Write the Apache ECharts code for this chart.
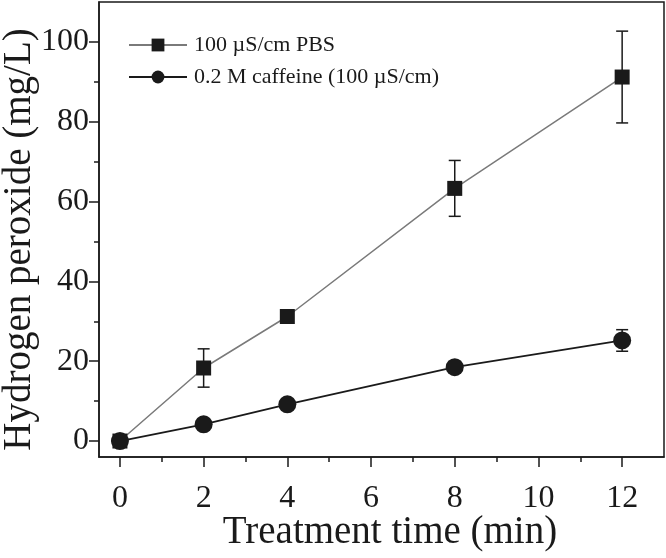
<!DOCTYPE html>
<html><head><meta charset="utf-8">
<script src="https://cdn.jsdelivr.net/npm/echarts@6/dist/echarts.min.js"></script>
<style>html,body{margin:0;padding:0;background:#fff}#c{width:666px;height:558px}</style>
</head><body><div id="c"></div>
<script>
const time = [0, 2, 4, 8, 12];
const pbs = [0, 18.3, 31.2, 63.3, 91.2];
const pbsErr = [0, 4.8, 0.8, 7.0, 11.5];
const caf = [0, 4.2, 9.2, 18.5, 25.2];
const cafErr = [0, 0.5, 0.6, 1.4, 2.7];
const xMajor = [0, 2, 4, 6, 8, 10, 12];
const xMinor = [1, 3, 5, 7, 9, 11];
const yMajor = [0, 20, 40, 60, 80, 100];
const yMinor = [10, 30, 50, 70, 90];
const names = ['100 \u00B5S/cm PBS', '0.2 M caffeine (100 \u00B5S/cm)'];

const font = 'Liberation Serif';
const ink = '#1a1a1a';
const chart = echarts.init(document.getElementById('c'));

function errData(v, e) { return time.map((t, i) => [t, v[i] - e[i], v[i] + e[i]]); }
function errSeries(v, e) {
  return {
    type: 'custom', xAxisIndex: 0, yAxisIndex: 0, z: 3, silent: true,
    data: errData(v, e),
    renderItem: function (params, api) {
      const x = api.value(0), lo = api.value(1), hi = api.value(2);
      if (hi - lo < 0.01) return null;
      const p1 = api.coord([x, hi]), p2 = api.coord([x, lo]);
      const w = 6;
      const st = { stroke: ink, lineWidth: 1.5 };
      return { type: 'group', children: [
        { type: 'line', shape: { x1: p1[0], y1: p1[1], x2: p2[0], y2: p2[1] }, style: st },
        { type: 'line', shape: { x1: p1[0] - w, y1: p1[1], x2: p1[0] + w, y2: p1[1] }, style: st },
        { type: 'line', shape: { x1: p2[0] - w, y1: p2[1], x2: p2[0] + w, y2: p2[1] }, style: st }
      ]};
    }
  };
}

const axisLineStyle = { color: ink, width: 1.5 };
chart.setOption({
  animation: false,
  backgroundColor: '#fff',
  grid: { left: 99, right: 2, top: 2, bottom: 101, show: true, borderColor: ink, borderWidth: 1.5,
          outerBoundsMode: 'none', containLabel: false },
  legend: {
    left: 123, top: 29, orient: 'vertical', itemGap: 10,
    itemWidth: 58, itemHeight: 16,
    textStyle: { fontFamily: font, fontSize: 22, color: ink, padding: [0, 0, 0, 2] },
    data: names
  },
  xAxis: [
    { type: 'value', min: -0.5, max: 13, splitLine: { show: false },
      axisLine: { show: true, onZero: false, lineStyle: axisLineStyle },
      axisTick: { show: true, length: 10, lineStyle: axisLineStyle, customValues: xMajor },
      axisLabel: { customValues: xMajor, fontFamily: font, fontSize: 32, color: ink, margin: 26 },
      name: 'Treatment time (min)', nameLocation: 'middle', nameGap: 56, nameMoveOverlap: false,
      nameTextStyle: { fontFamily: font, fontSize: 39, color: ink, padding: [0, 0, 0, 17] } },
    { type: 'value', min: -0.5, max: 13, position: 'bottom', splitLine: { show: false },
      axisLine: { show: false, onZero: false },
      axisTick: { show: true, length: 5, lineStyle: axisLineStyle, customValues: xMinor },
      axisLabel: { show: false } }
  ],
  yAxis: [
    { type: 'value', min: -4, max: 110, splitLine: { show: false },
      axisLine: { show: true, onZero: false, lineStyle: axisLineStyle },
      axisTick: { show: true, length: 10, lineStyle: axisLineStyle, customValues: yMajor },
      axisLabel: { customValues: yMajor, fontFamily: font, fontSize: 32, color: ink, margin: 10 },
      name: 'Hydrogen peroxide (mg/L)', nameLocation: 'middle', nameGap: 60, nameMoveOverlap: false,
      nameTextStyle: { fontFamily: font, fontSize: 39, color: ink, padding: [0, 20, 0, 0] } },
    { type: 'value', min: -4, max: 110, position: 'left', splitLine: { show: false },
      axisLine: { show: false, onZero: false },
      axisTick: { show: true, length: 5, lineStyle: axisLineStyle, customValues: yMinor },
      axisLabel: { show: false } }
  ],
  series: [
    errSeries(pbs, pbsErr),
    errSeries(caf, cafErr),
    { name: names[0], type: 'line', z: 4, data: time.map((t, i) => [t, pbs[i]]),
      symbol: 'rect', symbolSize: 15,
      lineStyle: { color: '#7a7a7a', width: 1.5 },
      itemStyle: { color: ink } },
    { name: names[1], type: 'line', z: 5, data: time.map((t, i) => [t, caf[i]]),
      symbol: 'circle', symbolSize: 18,
      lineStyle: { color: ink, width: 1.8 },
      itemStyle: { color: ink } }
  ]
});
</script></body></html>
